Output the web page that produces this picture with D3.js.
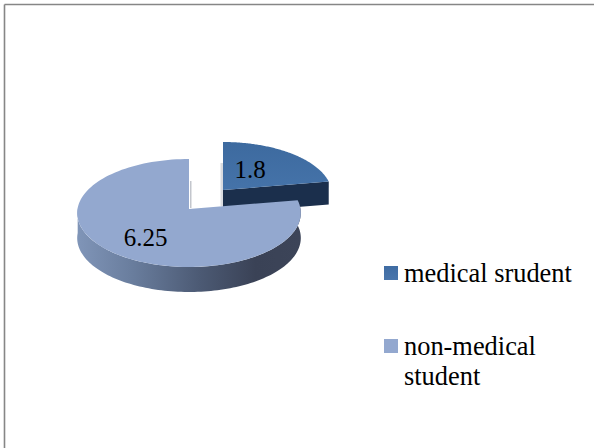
<!DOCTYPE html>
<html>
<head>
<meta charset="utf-8">
<script src="https://cdn.jsdelivr.net/npm/d3@7"></script>
<style>
html,body{margin:0;padding:0;background:#fff;}
svg{display:block;}
text{font-family:"Liberation Serif","Times New Roman",serif;fill:#000;}
</style>
</head>
<body>
<svg id="chart" width="594" height="448"></svg>
<script>
// Student groups and their shares
const categories = ["medical srudent", "non-medical student"];
const values = [1.8, 6.25];
const valueLabels = ["1.8", "6.25"];
const legendLines = [["medical srudent"], ["non-medical", "student"]];

const svg = d3.select("#chart");
const width = 594, height = 448;

const defs = svg.append("defs");
const addGradient = (id, x1, y1, x2, y2, stops, userSpace) => {
  const g = defs.append("linearGradient").attr("id", id)
    .attr("x1", x1).attr("y1", y1).attr("x2", x2).attr("y2", y2);
  if (userSpace) g.attr("gradientUnits", "userSpaceOnUse");
  stops.forEach(([o, c]) => g.append("stop").attr("offset", o).attr("stop-color", c));
};
addGradient("wallGrad", 77, 0, 300, 0,
  [[0, "#8095b8"], [0.25, "#697d9d"], [0.55, "#4c5a74"], [0.8, "#3a4256"], [1, "#3c4458"]], true);
addGradient("blueTop", 0, 0, 0, 1, [[0, "#3d6a9f"], [1, "#4573a9"]]);
addGradient("blueSwatch", 0, 0, 0, 1, [[0, "#3f6ca3"], [1, "#4a76ac"]]);
addGradient("notchShade", 0, 0, 1, 0, [[0, "#b4b8c0"], [1, "#ffffff"]]);

// Outer frame: only the top and left rules fall inside the canvas
const frame = svg.append("g").attr("stroke", "#868686").attr("stroke-width", 1.6);
frame.append("line").attr("x1", 4.5).attr("y1", 4.5).attr("x2", width).attr("y2", 4.5);
frame.append("line").attr("x1", 4.5).attr("y1", 4.5).attr("x2", 4.5).attr("y2", height);

// Pie angles, clockwise from twelve o'clock
const arcs = d3.pie().sort(null).value(d => d)(values);

// Perspective projection of the flat disc onto the page
const tilt = 0.074, squash = 53.7;
const projector = (cx, cy, rx, scale) => (a, r = 1, drop = 0) => {
  const u = Math.sin(a) * r, v = -Math.cos(a) * r;
  const w = 1 - tilt * v;
  return [cx + rx * u / w, cy + scale * squash * v / w + drop];
};

const rim = (proj, a0, a1, drop = 0) =>
  d3.range(0, 121).map(i => proj(a0 + (a1 - a0) * i / 120, 1, drop));
const line = d3.line();

const mainProj = projector(189, 209, 111.5, 1);
const blueProj = projector(223, 190, 108.5, 0.96);
const mainDepth = 25, blueDepth = 23;

const [medical, nonMedical] = arcs;

// Exploded medical slice: side wall first, top face over it
const blueG = svg.append("g");
const bluePts = rim(blueProj, medical.startAngle, medical.endAngle);
const blueHub = blueProj(0, 0);
const blueEnd = blueProj(medical.endAngle);
blueG.append("path")
  .attr("d", line([blueHub, blueEnd, [blueEnd[0], blueEnd[1] + blueDepth], [blueHub[0], blueHub[1] + blueDepth]]) + "Z")
  .attr("fill", "#1b2f4c");
blueG.append("path")
  .attr("d", line([blueHub, ...bluePts]) + "Z")
  .attr("fill", "url(#blueTop)");

// Soft shading along the cut faces at the notch
svg.append("rect").attr("x", 190).attr("y", 181).attr("width", 2.5).attr("height", 27)
  .attr("fill", "url(#notchShade)");
svg.append("rect").attr("x", 220.5).attr("y", 163).attr("width", 2.5).attr("height", 43)
  .attr("fill", "#c9ccd2").attr("opacity", 0.7);

// Main slice: curved outer wall under the top face
const sweep0 = nonMedical.startAngle, sweep1 = nonMedical.endAngle;
const wallUpper = rim(mainProj, sweep0, 3 * Math.PI / 2 + 0.02);
const wallLower = rim(mainProj, sweep0, 3 * Math.PI / 2 + 0.02, mainDepth).reverse();
svg.append("path")
  .attr("d", line([...wallUpper, ...wallLower]) + "Z")
  .attr("fill", "url(#wallGrad)");
svg.append("path")
  .attr("d", line([mainProj(0, 0), ...rim(mainProj, sweep0, sweep1)]) + "Z")
  .attr("fill", "#93a8cf");

// Value labels
const valuePos = [[250, 178], [145.5, 246]];
svg.selectAll("text.value").data(valueLabels).join("text")
  .attr("class", "value")
  .attr("x", (d, i) => valuePos[i][0])
  .attr("y", (d, i) => valuePos[i][1])
  .attr("text-anchor", "middle")
  .attr("font-size", 25)
  .text(d => d);

// Legend
const legendY = d3.scalePoint().domain(categories).range([273, 346]);
const swatchFill = ["url(#blueSwatch)", "#93a8cf"];
const legend = svg.selectAll("g.legend").data(categories).join("g")
  .attr("class", "legend")
  .attr("transform", d => `translate(384,${legendY(d)})`);
legend.append("rect").attr("x", 0).attr("y", -7).attr("width", 14).attr("height", 14)
  .attr("fill", (d, i) => swatchFill[i]);
legend.each(function (d, i) {
  const t = d3.select(this).append("text").attr("font-size", 26.4);
  legendLines[i].forEach((l, j) => {
    t.append("tspan").attr("x", 20).attr("y", 8.5 + j * 30).text(l);
  });
});
</script>
</body>
</html>
